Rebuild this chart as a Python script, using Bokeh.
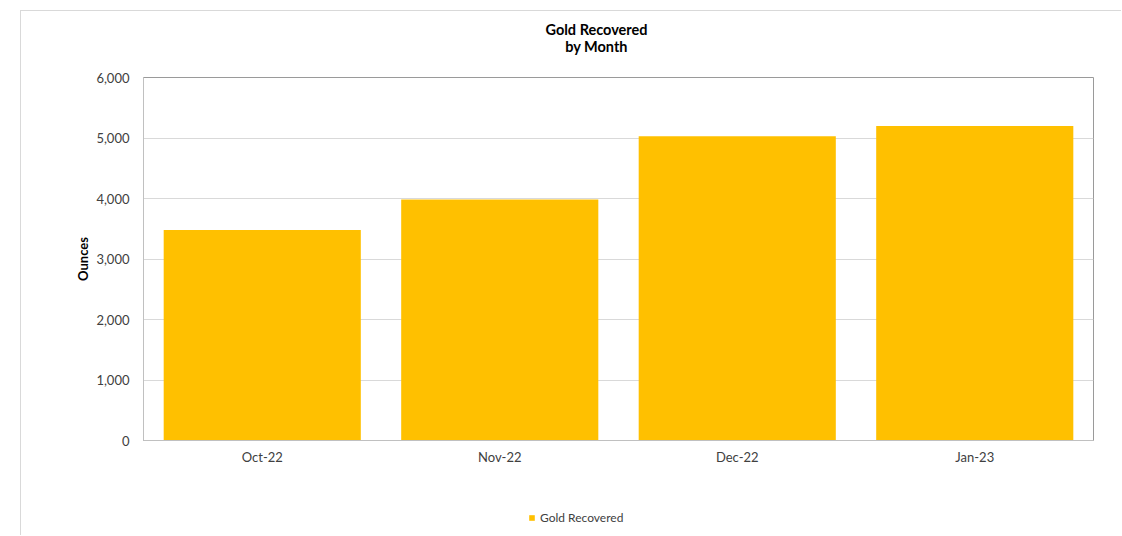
from bokeh.plotting import figure
from bokeh.layouts import column
from bokeh.models import (ColumnDataSource, Legend, LegendItem, NumeralTickFormatter,
                          FixedTicker, Label, Range1d, FactorRange)
from bokeh.embed import file_html
from bokeh.resources import INLINE

months = ["Oct-22", "Nov-22", "Dec-22", "Jan-23"]
ounces = [3480, 3985, 5030, 5200]
y_ticks = [0, 1000, 2000, 3000, 4000, 5000, 6000]
series_name = "Gold Recovered"
title_lines = ["Gold Recovered", "by Month"]

FONT = "Lato"
BAR = "#FFC000"
W = 1100
source = ColumnDataSource(data=dict(month=months, ounces=ounces))


def strip(height):
    f = figure(width=W, height=height, x_range=FactorRange(*months), y_range=Range1d(0, 1),
               output_backend="svg", toolbar_location=None,
               x_axis_location=None, y_axis_location=None,
               min_border=0, min_border_left=0, min_border_right=0,
               min_border_top=0, min_border_bottom=0)
    f.outline_line_color = None
    f.grid.grid_line_color = None
    return f


# ---- header (title) ----
head = strip(56)
head.add_layout(Label(x=453, y=38, x_units="screen", y_units="screen", text=title_lines[0],
                      text_font=FONT, text_font_style="bold", text_font_size="14.5px",
                      text_align="center", text_baseline="middle", text_color="#000000"))
head.add_layout(Label(x=453, y=21, x_units="screen", y_units="screen", text=title_lines[1],
                      text_font=FONT, text_font_style="bold", text_font_size="14.5px",
                      text_align="center", text_baseline="middle", text_color="#000000"))

# ---- main chart ----
p = figure(x_range=months, y_range=(0, 6000), width=W, height=413,
           output_backend="svg", toolbar_location=None,
           min_border_left=122, min_border_right=28, min_border_top=10, min_border_bottom=40)

r = p.vbar(x="month", top="ounces", width=0.83, bottom=0, source=source,
           fill_color=BAR, line_color=None)

p.outline_line_color = "#9a9a9a"
p.xgrid.grid_line_color = None
p.ygrid.grid_line_color = "#d9d9d9"
p.ygrid.grid_line_width = 1

p.yaxis.ticker = FixedTicker(ticks=y_ticks)
p.yaxis.formatter = NumeralTickFormatter(format="0,0")
p.yaxis.axis_label = "Ounces"
p.yaxis.axis_label_text_font = FONT
p.yaxis.axis_label_text_font_style = "bold"
p.yaxis.axis_label_text_font_size = "13px"
p.yaxis.axis_label_text_color = "#000000"
p.yaxis.axis_label_standoff = 2

for ax in (p.xaxis[0], p.yaxis[0]):
    ax.major_label_text_font = FONT
    ax.major_label_text_font_size = "13px"
    ax.major_label_text_color = "#404040"
    ax.major_tick_line_color = None
    ax.minor_tick_line_color = None
    ax.axis_line_color = "#c0c0c0"

p.yaxis.major_label_standoff = 8
p.xaxis.major_label_standoff = 2

# ---- legend strip ----
leg = strip(55)
swatch = leg.vbar(x="month", top="ounces", width=0.83, source=source,
                  fill_color=BAR, line_color=None, visible=False)
legend = Legend(items=[LegendItem(label=series_name, renderers=[swatch])],
                location=(385, 10), padding=0, margin=0, spacing=0,
                glyph_width=7, glyph_height=7, label_height=7, label_standoff=5,
                label_text_font=FONT, label_text_font_size="12px", label_text_color="#404040",
                border_line_color=None, background_fill_alpha=0, click_policy="none")
leg.add_layout(legend, "center")

layout = column(head, p, leg, spacing=0)
layout.margin = (10, 0, 0, 20)
layout.styles = {"border-top": "1px solid #d9d9d9", "border-left": "1px solid #d9d9d9"}

open("out.html", "w").write(file_html(layout, INLINE))
